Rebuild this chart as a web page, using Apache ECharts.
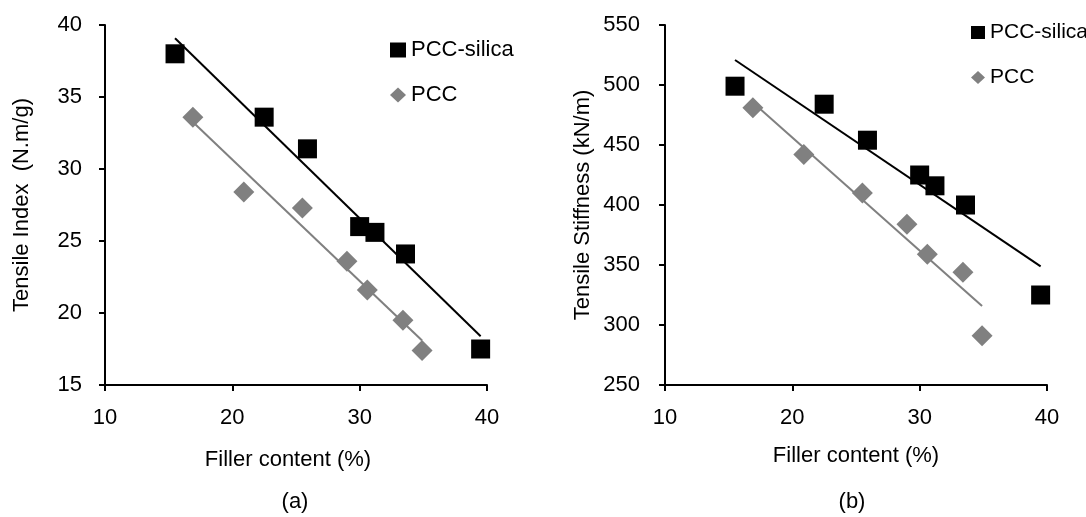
<!DOCTYPE html>
<html>
<head>
<meta charset="utf-8">
<script src="https://cdn.jsdelivr.net/npm/echarts@6/dist/echarts.min.js"></script>
<style>
  html, body { margin: 0; padding: 0; background: #fff; }
  #chart { width: 1086px; height: 517px; }
</style>
</head>
<body>
<div id="chart"></div>
<script>
// filler content (%) of the handsheets
const fillerSilica = [15.5, 22.5, 25.9, 30.0, 31.2, 33.6, 39.5];
const fillerPcc = [16.9, 20.9, 25.5, 29.0, 30.6, 33.4, 34.9];

// (a) tensile index, N.m/g
const indexSilica = [38.0, 33.6, 31.4, 26.0, 25.6, 24.1, 17.5];
const indexPcc = [33.6, 28.4, 27.3, 23.6, 21.6, 19.5, 17.4];

// (b) tensile stiffness, kN/m
const stiffSilica = [499, 484, 454, 425, 416, 400, 325];
const stiffPcc = [481, 442, 410, 384, 359, 344, 291];

const FONT = "'Liberation Sans Narrow', 'Arial Narrow', 'Liberation Sans', sans-serif";
const FS = 22;
const GREY = '#808080';

function pairs(xs, ys) {
    return xs.map((x, i) => [x, ys[i]]);
}

// least squares trendline, drawn over the range of the data
function trend(xs, ys) {
    const n = xs.length;
    const mx = xs.reduce((a, b) => a + b, 0) / n;
    const my = ys.reduce((a, b) => a + b, 0) / n;
    let sxy = 0, sxx = 0;
    for (let i = 0; i < n; i++) {
        sxy += (xs[i] - mx) * (ys[i] - my);
        sxx += (xs[i] - mx) * (xs[i] - mx);
    }
    const slope = sxy / sxx;
    const x0 = Math.min(...xs), x1 = Math.max(...xs);
    return [[x0, my + slope * (x0 - mx)], [x1, my + slope * (x1 - mx)]];
}

function xAxis(gridIndex) {
    return {
        type: 'value', gridIndex: gridIndex,
        min: 10, max: 40, interval: 10,
        name: 'Filler content (%)', nameLocation: 'middle',
        nameGap: gridIndex === 0 ? 64 : 60,
        nameTextStyle: {
            fontFamily: FONT, fontSize: FS, color: '#000', lineHeight: FS,
            padding: gridIndex === 0 ? [0, 16, 0, 0] : 0
        },
        axisLine: { lineStyle: { color: '#000', width: 2 } },
        axisTick: { inside: false, length: 6, lineStyle: { color: '#000', width: 2 } },
        axisLabel: { fontFamily: FONT, fontSize: FS, color: '#000', margin: 22 },
        splitLine: { show: false }
    };
}

function yAxis(gridIndex, name, min, max, interval, gap, margin) {
    return {
        type: 'value', gridIndex: gridIndex,
        min: min, max: max, interval: interval,
        name: name, nameLocation: 'middle', nameGap: gap,
        nameTextStyle: { fontFamily: FONT, fontSize: FS, color: '#000', lineHeight: FS },
        axisLine: { show: true, lineStyle: { color: '#000', width: 2 } },
        axisTick: { show: true, inside: false, length: 6, lineStyle: { color: '#000', width: 2 } },
        axisLabel: { fontFamily: FONT, fontSize: FS, color: '#000', margin: margin },
        splitLine: { show: false }
    };
}

function scatter(name, idx, data, symbol, size, color) {
    return {
        name: name, type: 'scatter', xAxisIndex: idx, yAxisIndex: idx,
        symbol: symbol, symbolSize: size, data: data,
        itemStyle: { color: color, opacity: 1 }, z: 3
    };
}

function trendLine(idx, xs, ys, color) {
    return {
        type: 'line', xAxisIndex: idx, yAxisIndex: idx,
        data: trend(xs, ys), showSymbol: false, symbol: 'none',
        lineStyle: { color: color, width: 2 }, z: 4, silent: true
    };
}

function legend(left, top, w, h, fs) {
    return {
        orient: 'vertical', left: left, top: top,
        itemWidth: w, itemHeight: h, itemGap: 45 - fs, padding: 0,
        textStyle: { fontFamily: FONT, fontSize: fs, color: '#000', lineHeight: fs },
        data: [{ name: 'PCC-silica', icon: 'rect' }, { name: 'PCC', icon: 'diamond' }]
    };
}

const chart = echarts.init(document.getElementById('chart'));

chart.setOption({
    animation: false,
    backgroundColor: '#fff',
    grid: [
        { left: 105, top: 25, width: 382, height: 360 },
        { left: 665, top: 25, width: 382, height: 360 }
    ],
    xAxis: [xAxis(0), xAxis(1)],
    yAxis: [
        yAxis(0, 'Tensile Index  (N.m/g)', 15, 40, 5, 72, 23),
        yAxis(1, 'Tensile Stiffness (kN/m)', 250, 550, 50, 71, 25)
    ],
    legend: [legend(390, 39, 16, 15, FS), legend(971, 22, 14, 13, 21)],
    series: [
        scatter('PCC-silica', 0, pairs(fillerSilica, indexSilica), 'rect', 19, '#000'),
        scatter('PCC', 0, pairs(fillerPcc, indexPcc), 'diamond', 21, GREY),
        trendLine(0, fillerSilica, indexSilica, '#000'),
        trendLine(0, fillerPcc, indexPcc, GREY),
        scatter('PCC-silica', 1, pairs(fillerSilica, stiffSilica), 'rect', 19, '#000'),
        scatter('PCC', 1, pairs(fillerPcc, stiffPcc), 'diamond', 21, GREY),
        trendLine(1, fillerSilica, stiffSilica, '#000'),
        trendLine(1, fillerPcc, stiffPcc, GREY)
    ],
    graphic: [
        { type: 'text', x: 295, y: 502, style: { text: '(a)', font: FS + 'px ' + FONT, fill: '#000', align: 'center', verticalAlign: 'middle' } },
        { type: 'text', x: 852, y: 502, style: { text: '(b)', font: FS + 'px ' + FONT, fill: '#000', align: 'center', verticalAlign: 'middle' } }
    ]
});
</script>
</body>
</html>
